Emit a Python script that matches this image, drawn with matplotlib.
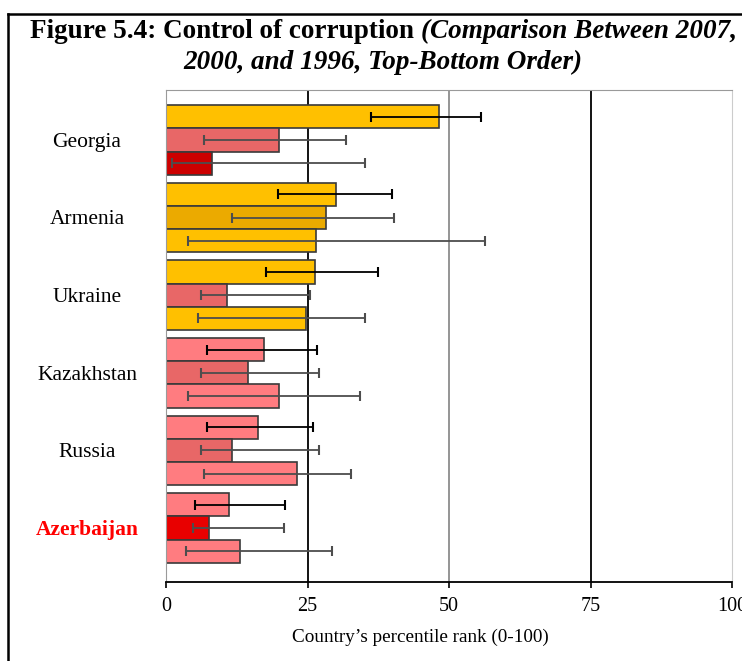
import numpy as np
import matplotlib
matplotlib.use('Agg')
import matplotlib.pyplot as plt
from matplotlib.lines import Line2D
import matplotlib.transforms as mtransforms

countries = ['Georgia', 'Armenia', 'Ukraine', 'Kazakhstan', 'Russia', 'Azerbaijan']
years = ['2007', '2000', '1996']

# percentile rank per country, order 2007 / 2000 / 1996
rank = [
    [48.3, 19.9, 8.1],
    [30.0, 28.2, 26.5],
    [26.4, 10.8, 24.8],
    [17.3, 14.4, 19.9],
    [16.3, 11.6, 23.2],
    [11.2, 7.6, 13.1],
]
err_low = [
    [36.3, 6.7, 1.1],
    [19.7, 11.6, 3.9],
    [17.6, 6.1, 5.7],
    [7.2, 6.1, 3.9],
    [7.2, 6.1, 6.8],
    [5.1, 4.8, 3.5],
]
err_high = [
    [55.6, 31.8, 35.1],
    [39.9, 40.2, 56.4],
    [37.4, 25.4, 35.1],
    [26.7, 27.0, 34.2],
    [25.9, 27.0, 32.7],
    [21.0, 20.9, 29.4],
]

GOLD = '#FFC000'
GOLD2 = '#EBAA00'
PINK = '#FF7C80'
PINK2 = '#E86767'
colors = [
    [GOLD, PINK2, '#CC0000'],
    [GOLD, GOLD2, GOLD],
    [GOLD, PINK2, GOLD],
    [PINK, PINK2, PINK],
    [PINK, PINK2, PINK],
    [PINK, '#E80000', PINK],
]

plt.rcParams['font.family'] = ['Liberation Serif', 'DejaVu Serif']

fig = plt.figure(figsize=(7.42, 6.61), dpi=100)
ax = fig.add_axes([166 / 742, 1 - 582 / 661, 566 / 742, 492 / 661])

pitch = 3.35
for g, c in enumerate(countries):
    for k in range(3):
        y = g * pitch + k + 0.5
        v = rank[g][k]
        ax.barh(y, v, height=1.0, color=colors[g][k], edgecolor='#3a3a3a',
                linewidth=1.2, zorder=2)
        lo, hi = err_low[g][k], err_high[g][k]
        ecol = 'black' if k == 0 else '#4d4d4d'
        ax.errorbar(v, y, xerr=[[v - lo], [hi - v]], fmt='none', ecolor=ecol,
                    elinewidth=1.3, capsize=3.5, capthick=1.5, zorder=3)

ax.set_xlim(0, 100)
ax.set_ylim(5 * pitch + 3 + 0.83, -0.66)

for x, col in [(25, 'black'), (50, '#8c8c8c'), (75, 'black')]:
    ax.axvline(x, color=col, linewidth=1.3, zorder=1)

ax.set_yticks([])
ax.set_xticks([0, 25, 50, 75, 100])
ax.tick_params(axis='x', labelsize=14.5, length=4, width=1.2, pad=7)
for side in ['top', 'left']:
    ax.spines[side].set_color('#9a9a9a')
ax.spines['right'].set_color('#cccccc')
ax.spines['bottom'].set_linewidth(1.3)

trans = mtransforms.blended_transform_factory(ax.transAxes, ax.transData)
for g, c in enumerate(countries):
    if c == 'Azerbaijan':
        ax.text(-79 / 566, g * pitch + 1.6, c, transform=trans, ha='center',
                va='center', fontsize=15.5, color='#FF0000', fontweight='bold')
    else:
        ax.text(-79 / 566, g * pitch + 1.6, c, transform=trans, ha='center',
                va='center', fontsize=15.5)

ax.set_xlabel("Country\u2019s percentile rank (0-100)", fontsize=13.8)
ax.xaxis.set_label_coords((420 - 166) / 566, -0.095)

# title, bold part then bold italic part
t1 = fig.text(30 / 742, 1 - 38 / 661, 'Figure 5.4: Control of corruption ',
              fontsize=19.5, fontweight='bold', va='baseline')
fig.canvas.draw()
bb = t1.get_window_extent()
fig.text(bb.x1 / fig.bbox.width, 1 - 38 / 661, '(Comparison Between 2007,',
         fontsize=19.5, fontweight='bold', style='italic', va='baseline')
fig.text(383 / 742, 1 - 69 / 661, '2000, and 1996, Top-Bottom Order)',
         fontsize=19.5, fontweight='bold', style='italic', ha='center', va='baseline')

# outer frame (cut off at right and bottom)
fig.add_artist(Line2D([8 / 742, 8 / 742], [-0.1, 1 - 14 / 661], color='black',
                      linewidth=1.8, transform=fig.transFigure))
fig.add_artist(Line2D([8 / 742, 1.1], [1 - 14 / 661, 1 - 14 / 661], color='black',
                      linewidth=1.8, transform=fig.transFigure))

fig.savefig('out.png', dpi=100)
